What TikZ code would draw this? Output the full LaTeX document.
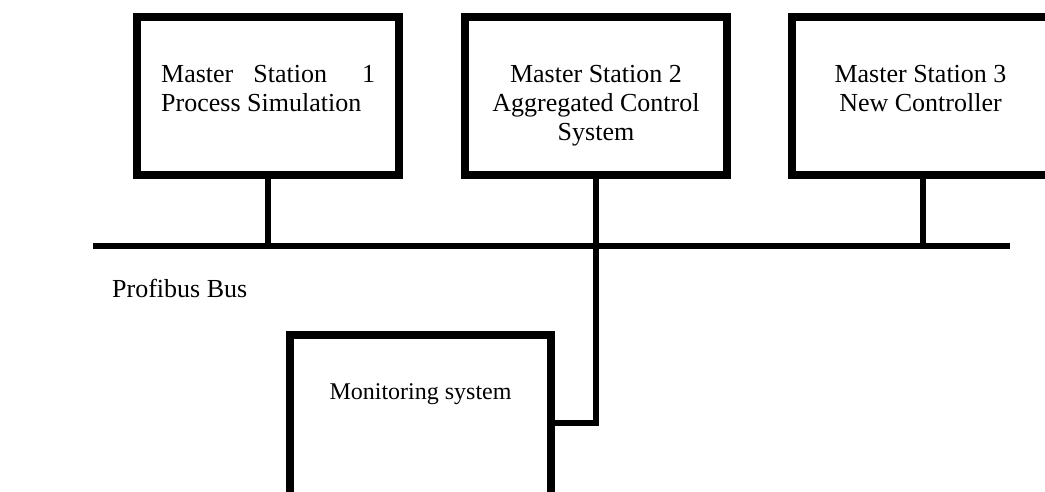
\documentclass[tikz,border=0pt]{standalone}
\usepackage{fontspec}
\setmainfont{Liberation Serif}
\begin{document}
\begin{tikzpicture}[x=1pt,y=-1pt,
  station/.style={draw=black, line width=8pt, fill=white, inner sep=0pt, minimum width=262pt, minimum height=158pt},
  monbox/.style={draw=black, line width=8pt, fill=white, inner sep=0pt, minimum width=261pt, minimum height=176pt},
  wire/.style={line width=6pt, line cap=butt},
  big/.style={font=\fontsize{26}{28.8}\selectfont, inner sep=0pt, text=black},
  small/.style={font=\fontsize{24}{28}\selectfont, inner sep=0pt, text=black}
]
\useasboundingbox (0,0) rectangle (1045,491);
\clip (0,0) rectangle (1045,491);
\fill[white] (0,0) rectangle (1045,491);

% bus
\coordinate (busL) at (93,246);
\coordinate (busR) at (1010,246);

% boxes
\node[station] (ms1) at (268,96) {};
\node[station] (ms2) at (596,96) {};
\node[station] (ms3) at (923,96) {};
\node[monbox] (mon) at (420.5,423) {};

% connectors
\draw[wire] (busL) -- (busR);
\draw[wire] (ms1.south) -- (ms1.south |- busL);
\draw[wire] (ms3.south) -- (ms3.south |- busL);
\draw[wire, line join=miter] (ms2.south) |- (mon.east);

% texts
\node[big, anchor=north west, align=left] (t1) at (161,65.4)
  {Master\hspace{20pt}Station\hspace{35pt}1\\Process Simulation};
\node[big, anchor=north, align=center] (t2) at (596,65.4)
  {Master Station 2\\Aggregated Control\\System};
\node[big, anchor=north, align=center] (t3) at (920.5,65.4)
  {Master Station 3\\New Controller};
\node[big, anchor=base west] (bus) at (112,297) {Profibus Bus};
\node[small, anchor=base] (t4) at (420.5,399) {Monitoring system};
\end{tikzpicture}
\end{document}
